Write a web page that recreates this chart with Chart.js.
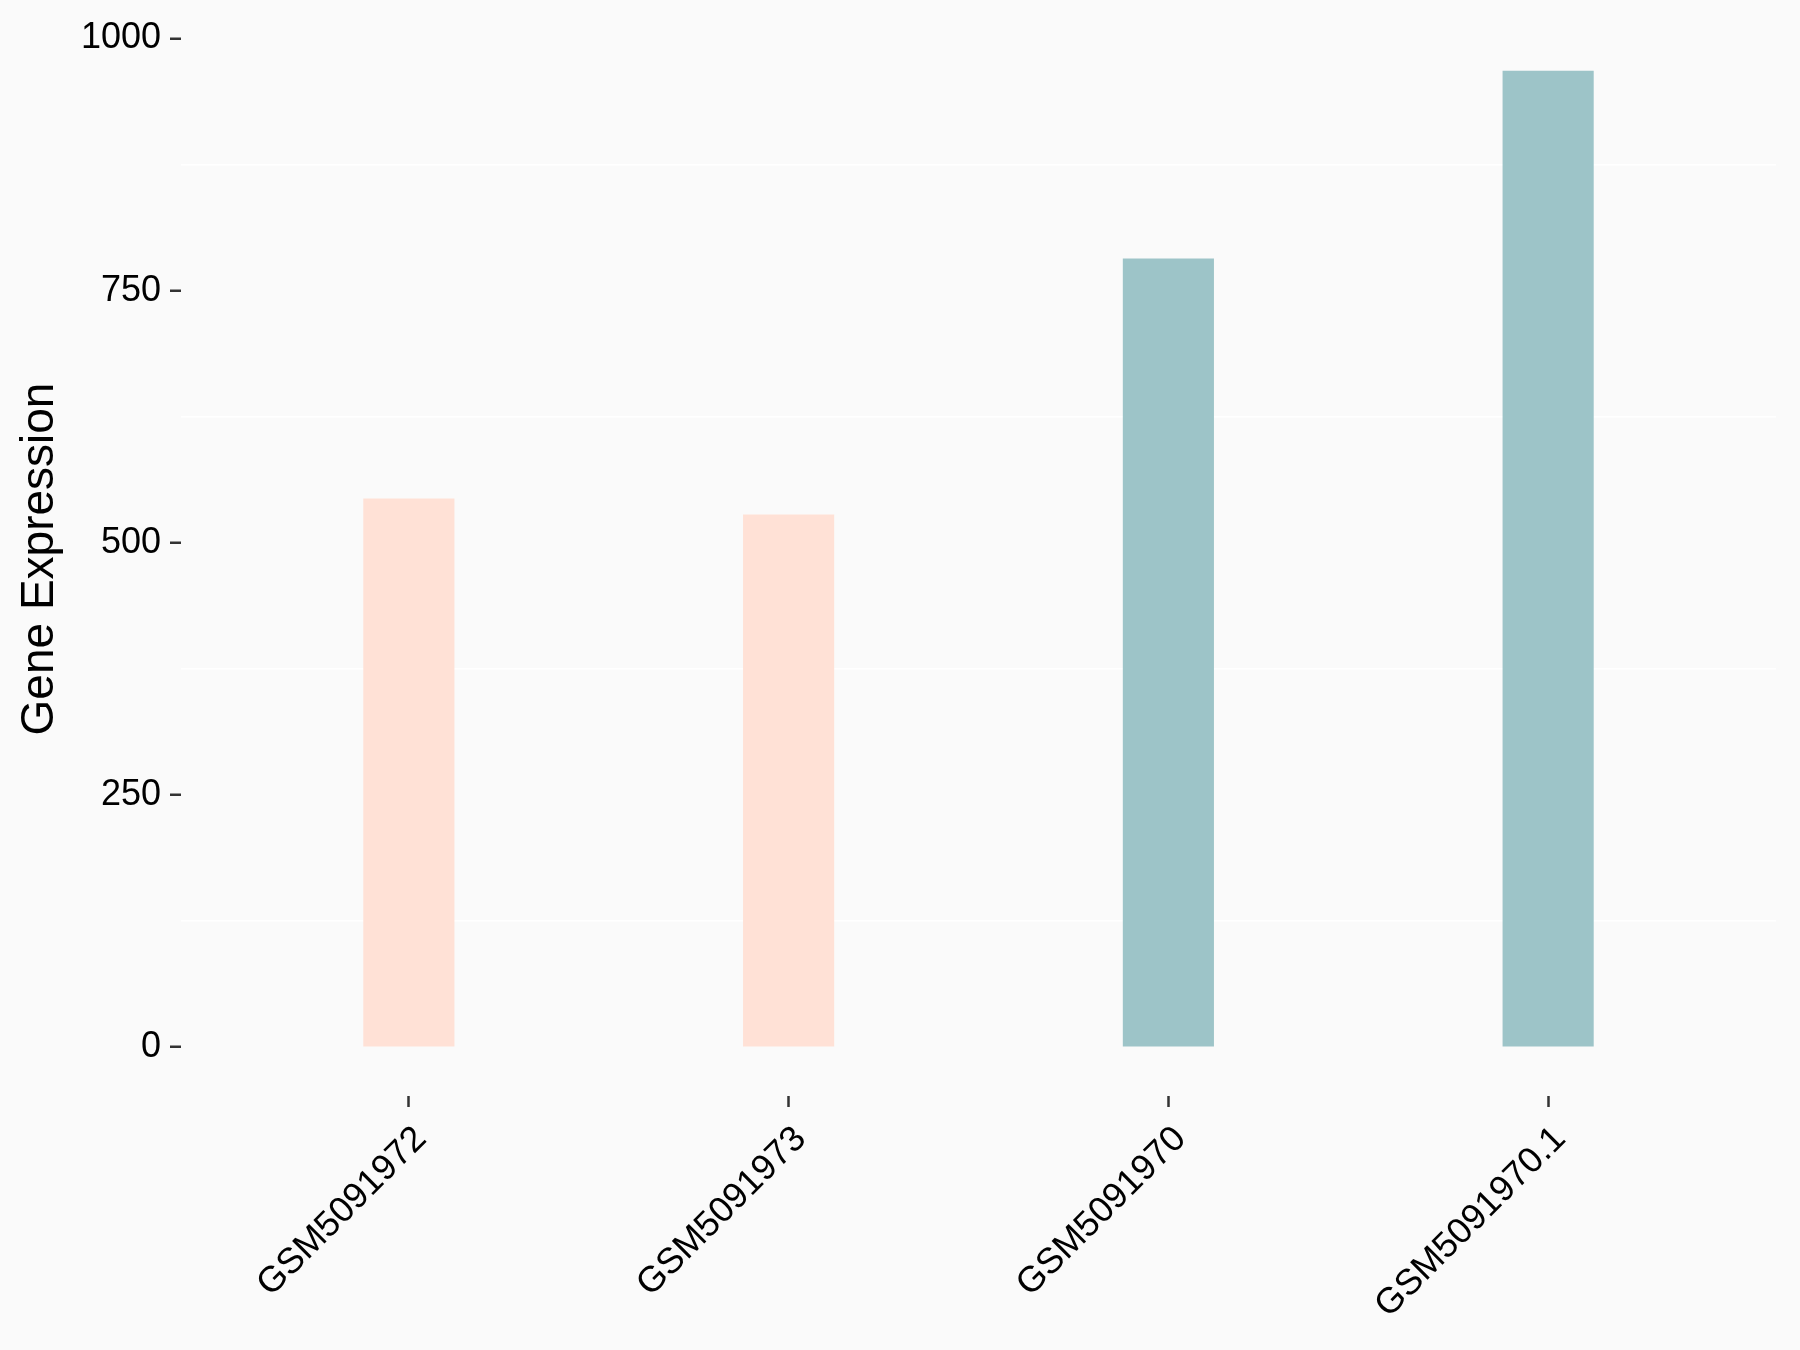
<!DOCTYPE html>
<html>
<head>
<meta charset="utf-8">
<title>Gene Expression</title>
<script src="https://cdn.jsdelivr.net/npm/chart.js@4/dist/chart.umd.min.js"></script>
<style>
  html, body { margin: 0; padding: 0; background: #FAFAFA; }
  #wrap { width: 1800px; height: 1350px; position: relative; }
</style>
</head>
<body>
<div id="wrap"><canvas id="geneChart"></canvas></div>
<script>
  // Data
  const samples = ['GSM5091972', 'GSM5091973', 'GSM5091970', 'GSM5091970.1'];
  const expression = [544, 528, 782, 968];
  const sampleGroup = [0, 0, 1, 1];
  const yTicks = [0, 250, 500, 750, 1000];
  const yMinorGrid = [125, 375, 625, 875];

  // Style
  const palette = ['#FFE1D6', '#9DC4C8'];
  const FONT = "'Liberation Sans', Arial, sans-serif";

  // ggplot-like expansion: 5% on continuous y, 0.6 units on discrete x
  const yMax = Math.max(...expression);
  const yMin = 0;
  const yPad = (yMax - yMin) * 0.05;

  const points = samples.map((s, i) => ({ x: i + 1, y: expression[i] }));

  // keep scales from asking the layout for extra room
  function noScalePadding(scale) {
    scale.paddingTop = 0;
    scale.paddingBottom = 0;
    scale.paddingLeft = 0;
    scale.paddingRight = 0;
  }

  new Chart(document.getElementById('geneChart'), {
    type: 'bar',
    data: {
      datasets: [{
        data: points,
        backgroundColor: sampleGroup.map((g) => palette[g]),
        borderWidth: 0,
        barPercentage: 0.24,
        categoryPercentage: 1,
      }],
    },
    options: {
      responsive: true,
      maintainAspectRatio: false,
      animation: false,
      layout: {
        autoPadding: false,
        padding: { left: 0, top: 22, right: 24, bottom: 0 },
      },
      plugins: {
        legend: { display: false },
        tooltip: { enabled: false },
      },
      scales: {
        x: {
          type: 'linear',
          offset: false,
          min: 0.4,
          max: samples.length + 0.6,
          afterBuildTicks: (scale) => {
            scale.ticks = samples.map((s, i) => ({ value: i + 1 }));
          },
          afterFit: (scale) => {
            scale.height = 254;
            noScalePadding(scale);
          },
          border: { display: false },
          grid: {
            offset: false,
            drawOnChartArea: false,
            drawTicks: true,
            tickLength: 11,
            tickWidth: 2.5,
            tickColor: '#333333',
          },
          ticks: {
            autoSkip: false,
            minRotation: 45,
            maxRotation: 45,
            padding: 11,
            labelOffset: 12,
            color: '#000000',
            font: { family: FONT, size: 36 },
            callback: (value, index) => samples[index],
          },
        },
        y: {
          type: 'linear',
          min: yMin - yPad,
          max: yMax + yPad,
          afterBuildTicks: (scale) => {
            scale.ticks = [...yTicks, ...yMinorGrid]
              .sort((a, b) => a - b)
              .map((v) => ({ value: v }));
          },
          afterFit: (scale) => {
            scale.width = 181;
            noScalePadding(scale);
          },
          border: { display: false },
          grid: {
            drawTicks: true,
            tickLength: 11,
            tickWidth: 2.5,
            lineWidth: 1.5,
            color: (ctx) => (yMinorGrid.includes(ctx.tick.value) ? '#FFFFFF' : 'rgba(0,0,0,0)'),
            tickColor: (ctx) => (yTicks.includes(ctx.tick.value) ? '#333333' : 'rgba(0,0,0,0)'),
          },
          ticks: {
            padding: 9,
            color: '#000000',
            font: { family: FONT, size: 36 },
            callback: (value) => (yTicks.includes(value) ? String(value) : ''),
          },
          title: {
            display: true,
            text: 'Gene Expression',
            color: '#000000',
            font: { family: FONT, size: 46 },
            padding: { top: 13, bottom: 0 },
          },
        },
      },
    },
  });
</script>
</body>
</html>
